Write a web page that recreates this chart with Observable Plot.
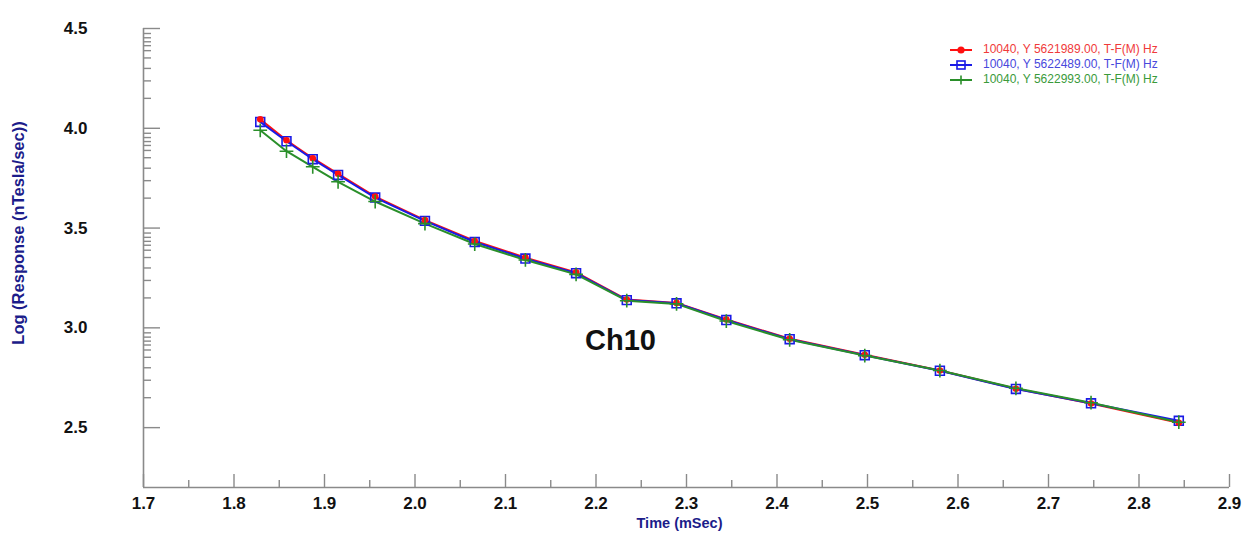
<!DOCTYPE html>
<html>
<head>
<meta charset="utf-8">
<script src="https://cdn.jsdelivr.net/npm/d3@7"></script>
<script src="https://cdn.jsdelivr.net/npm/@observablehq/plot@0.6"></script>
<style>
  html, body { margin: 0; padding: 0; background: #fff; }
  #chart { position: relative; width: 1251px; height: 536px; font-family: "Liberation Sans", Arial, sans-serif; }
  #legend { position: absolute; left: 949px; top: 42px; font-size: 12px; line-height: 15px; }
  #legend div { display: flex; align-items: center; white-space: nowrap; }
  #legend svg { margin-right: 10px; }
</style>
</head>
<body>
<div id="chart"><div id="legend"></div></div>
<script>
// Gate times (ms) shared by all three stations
const times = [1.829, 1.858, 1.887, 1.915, 1.956, 2.011, 2.066, 2.122, 2.178, 2.234, 2.289, 2.344, 2.414, 2.497, 2.580, 2.664, 2.747, 2.844];

// Log10 of the response (nT/s) at each gate
const redValues   = [4.045, 3.940, 3.850, 3.772, 3.658, 3.540, 3.435, 3.352, 3.278, 3.142, 3.125, 3.042, 2.945, 2.865, 2.786, 2.695, 2.621, 2.524];
const blueValues  = [4.032, 3.935, 3.845, 3.766, 3.653, 3.536, 3.430, 3.347, 3.274, 3.139, 3.123, 3.039, 2.943, 2.863, 2.785, 2.694, 2.622, 2.534];
const greenValues = [3.990, 3.885, 3.807, 3.732, 3.633, 3.522, 3.420, 3.340, 3.268, 3.136, 3.120, 3.034, 2.940, 2.861, 2.786, 2.697, 2.625, 2.527];

const seriesNames = [
  "10040, Y 5621989.00, T-F(M) Hz",
  "10040, Y 5622489.00, T-F(M) Hz",
  "10040, Y 5622993.00, T-F(M) Hz"
];

// Axis ticks
const xMajorTicks = [1.7, 1.8, 1.9, 2.0, 2.1, 2.2, 2.3, 2.4, 2.5, 2.6, 2.7, 2.8, 2.9];
const xMinorTicks = [1.75, 1.85, 1.95, 2.05, 2.15, 2.25, 2.35, 2.45, 2.55, 2.65, 2.75, 2.85];
const yMajorTicks = [2.5, 3.0, 3.5, 4.0, 4.5];
const yMinorSteps = [0.05, 0.093, 0.133, 0.172, 0.222, 0.295, 0.40, 0.525, 0.70];

const annotation = [{label: "Ch10", time: 2.227, value: 2.935}];

const colors = {line: ["#ff1010", "#1a1ae6", "#2a8f2a"], text: ["#f03a3a", "#4848dc", "#3a9a3a"]};

const toRows = vals => times.map((t, i) => ({time: t, value: vals[i]}));
const red = toRows(redValues), blue = toRows(blueValues), green = toRows(greenValues);

// Minor y ticks: log-like spacing below each of the upper major ticks
const yMinorTicks = [4.5, 4.0, 3.5, 3.0].flatMap(m => yMinorSteps.map(f => +(m - 0.5 * f).toFixed(4)));

const W = 1251, H = 536;
const mL = 143, mR = 22, mT = 28, mB = 49;
const innerW = W - mL - mR, innerH = H - mT - mB;
const axisGray = "#8a8a8a";

const chart = Plot.plot({
  width: W, height: H,
  marginLeft: mL, marginRight: mR, marginTop: mT, marginBottom: mB,
  style: {fontFamily: "Liberation Sans, Arial, sans-serif", background: "white"},
  x: {domain: [1.7, 2.9]},
  y: {domain: [2.2, 4.5]},
  marks: [
    // axis lines
    Plot.ruleX([1.7], {stroke: axisGray, strokeWidth: 1.6}),
    Plot.ruleY([2.2], {stroke: axisGray, strokeWidth: 1.6}),
    // inward ticks
    Plot.tickX(xMajorTicks, {x: d => d, stroke: axisGray, strokeWidth: 1.4, insetTop: innerH - 13}),
    Plot.tickX(xMinorTicks, {x: d => d, stroke: axisGray, strokeWidth: 1.4, insetTop: innerH - 7}),
    Plot.tickY(yMajorTicks, {y: d => d, stroke: axisGray, strokeWidth: 1.4, insetRight: innerW - 17}),
    Plot.tickY(yMinorTicks, {y: d => d, stroke: axisGray, strokeWidth: 1.4, insetRight: innerW - 8}),
    // tick labels
    Plot.axisX({ticks: xMajorTicks, tickSize: 0, tickPadding: 9, tickFormat: d3.format(".1f"), label: null,
      fontSize: 17, fontWeight: "bold", fill: "#111"}),
    Plot.axisY({ticks: yMajorTicks, tickSize: 0, tickPadding: 56, tickFormat: d3.format(".1f"), label: null,
      fontSize: 17, fontWeight: "bold", fill: "#111"}),
    // axis titles
    Plot.text(["Time (mSec)"], {frameAnchor: "bottom", text: d => d, dy: 40, dx: -7, fontSize: 14.5,
      fontWeight: "bold", fill: "#1c1c8a"}),
    Plot.text(["Log (Response (nTesla/sec))"], {frameAnchor: "left", text: d => d, rotate: -90, textAnchor: "middle",
      dx: -125, dy: -25, fontSize: 16.5, fontWeight: "bold", fill: "#1c1c8a"}),
    // series lines
    Plot.line(red, {x: "time", y: "value", stroke: colors.line[0], strokeWidth: 2}),
    Plot.line(blue, {x: "time", y: "value", stroke: colors.line[1], strokeWidth: 2}),
    Plot.line(green, {x: "time", y: "value", stroke: colors.line[2], strokeWidth: 2}),
    // markers
    Plot.dot(blue, {x: "time", y: "value", symbol: "square", r: 5, fill: "none", stroke: colors.line[1], strokeWidth: 1.6}),
    Plot.dot(red, {x: "time", y: "value", r: 3.3, fill: colors.line[0], stroke: "none"}),
    Plot.dot(green, {x: "time", y: "value", symbol: "plus", r: 4.5, stroke: colors.line[2], strokeWidth: 1.6}),
    // channel annotation
    Plot.text(annotation, {x: "time", y: "value", text: "label", fontSize: 29, fontWeight: "bold", fill: "#111"})
  ]
});
document.getElementById("chart").prepend(chart);
chart.style.position = "absolute";
chart.style.left = "0";
chart.style.top = "0";

// Legend with line + symbol swatches
const symbols = [
  c => `<circle cx="12" cy="5" r="3.6" fill="${c}"/>`,
  c => `<rect x="8" y="1" width="8" height="8" fill="none" stroke="${c}" stroke-width="1.6"/>`,
  c => `<path d="M12 0.5V9.5M7.5 5H16.5" stroke="${c}" stroke-width="1.6"/>`
];
const legend = d3.select("#legend");
seriesNames.forEach((name, i) => {
  const row = legend.append("div").style("color", colors.text[i]);
  row.html(`<svg width="24" height="10"><line x1="1" y1="5" x2="23" y2="5" stroke="${colors.line[i]}" stroke-width="2"/>${symbols[i](colors.line[i])}</svg><span>${name}</span>`);
});
</script>
</body>
</html>
